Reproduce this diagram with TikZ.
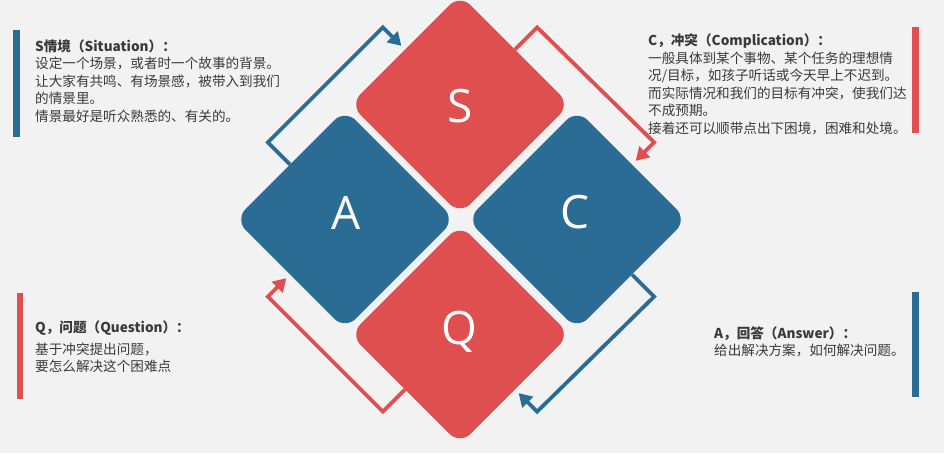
\documentclass[tikz,border=0pt]{standalone}
\usepackage{fontspec}
\setmainfont{Noto Sans CJK SC}
\newfontfamily\letterfont{Open Sans}
\usetikzlibrary{arrows.meta,calc}
\definecolor{bgc}{HTML}{F2F2F2}
\definecolor{redc}{HTML}{DF4F50}
\definecolor{bluec}{HTML}{2B6C95}
\definecolor{txtc}{HTML}{3A3A3A}
\tikzset{
  diabox/.style={rectangle, rotate=45, minimum width=155.5pt, minimum height=155.5pt,
    rounded corners=15pt, inner sep=0pt, draw=none},
  lettr/.style={text=white, font=\letterfont\fontsize{46pt}{46pt}\selectfont,
    text height=32pt, text depth=0pt, inner sep=0pt},
  flow/.style={line width=3.8pt, -{Triangle[length=13pt,width=15pt]}, shorten >=5pt},
  desc/.style={anchor=north west, align=left, inner sep=0pt, text=txtc,
    font=\fontsize{13.6pt}{17.5pt}\selectfont},
}
\begin{document}
\begin{tikzpicture}[x=1pt,y=-1pt]
\fill[bgc] (0,0) rectangle (944,453);
\useasboundingbox (0,0) rectangle (944,453);

% diamonds
\node[diabox, fill=redc]  (S) at (460,104.5) {};
\node[diabox, fill=bluec] (A) at (345,219.5) {};
\node[diabox, fill=bluec] (C) at (577,219.5) {};
\node[diabox, fill=redc]  (Q) at (460,334.5) {};

% arrows
\draw[flow, bluec] (A.north) -- ($(A.north)+(-22,-22)$) -- ($(S.north)+(-22,-22)$) -- (S.north);
\draw[flow, redc]  (S.east)  -- ($(S.east)+(22,-22)$)   -- ($(C.east)+(22,-22)$)   -- (C.east);
\draw[flow, bluec] (C.south) -- ($(C.south)+(22,22)$)   -- ($(Q.south)+(22,22)$)   -- (Q.south);
\draw[flow, redc]  (Q.west)  -- ($(Q.west)+(-22,22)$)   -- ($(A.west)+(-22,22)$)   -- (A.west);

% letters
\node[lettr] (Sl) at (460,106) {S};
\node[lettr] (Al) at (346,213) {A};
\node[lettr] (Cl) at (575,212) {C};
\node[lettr] (Ql) at (459,328) {Q};

% side bars
\fill[bluec] (13,30) rectangle (19.5,137);
\fill[redc]  (912,27) rectangle (918.5,133);
\fill[redc]  (16.5,293) rectangle (22.5,399);
\fill[bluec] (912,292) rectangle (918.5,397);

% texts
\node[desc] (tS) at (35,38.7) {\strut\textbf{S情境（Situation）：}\\
设定一个场景，或者时一个故事的背景。\\
让大家有共鸣、有场景感，被带入到我们\\
的情景里。\\
情景最好是听众熟悉的、有关的。};

\node[desc] (tC) at (648,33.4) {\strut\textbf{C，冲突（Complication）：}\\
一般具体到某个事物、某个任务的理想情\\
况/目标，如孩子听话或今天早上不迟到。\\
而实际情况和我们的目标有冲突，使我们达\\
不成预期。\\
接着还可以顺带点出下困境，困难和处境。};

\node[desc] (tQ) at (35,320.4) {\strut\textbf{Q，问题（Question）：}\\[4pt]
基于冲突提出问题，\\
要怎么解决这个困难点};

\node[desc] (tA) at (714,326) {\strut\textbf{A，回答（Answer）：}\\
给出解决方案，如何解决问题。};
\end{tikzpicture}
\end{document}
